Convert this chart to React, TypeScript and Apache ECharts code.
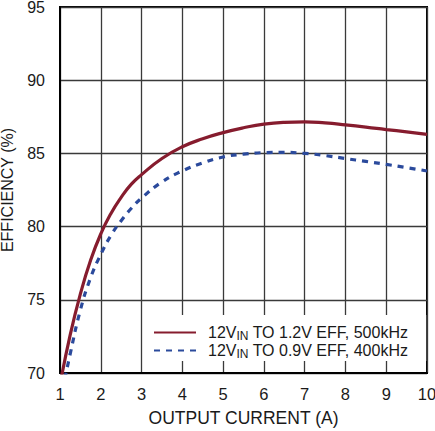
import { useEffect, useRef } from 'react';
import * as echarts from 'echarts';

// output current (A) and efficiency (%)
const red12to1v2X = [1.0, 1.25, 1.5, 1.75, 2.0, 2.25, 2.5, 2.75, 3.0, 3.5, 4.0, 4.5, 5.0, 5.5, 6.0, 6.5, 7.0, 7.5, 8.0, 8.5, 9.0, 9.5, 10];
const red12to1v2Y = [69.2, 72.6, 75.4, 77.7, 79.5, 80.9, 82.0, 82.9, 83.55, 84.65, 85.45, 86.0, 86.42, 86.75, 87.0, 87.12, 87.15, 87.08, 86.95, 86.8, 86.63, 86.47, 86.3];

const blue12to0v9X = [1.0, 1.25, 1.5, 1.75, 2.0, 2.25, 2.5, 2.75, 3.0, 3.5, 4.0, 4.5, 5.0, 5.5, 6.0, 6.5, 7.0, 7.5, 8.0, 8.5, 9.0, 9.5, 10];
const blue12to0v9Y = [68.0, 71.3, 74.3, 76.5, 78.1, 79.4, 80.4, 81.25, 81.95, 83.05, 83.8, 84.35, 84.75, 84.95, 85.05, 85.07, 85.0, 84.85, 84.65, 84.45, 84.25, 84.03, 83.8];

const seriesNames = ['12VIN TO 1.2V EFF, 500kHz', '12VIN TO 0.9V EFF, 400kHz'];
const legendLabels = ['12V{sub|IN} TO 1.2V EFF, 500kHz', '12V{sub|IN} TO 0.9V EFF, 400kHz'];

const FONT = "'Liberation Sans', Arial, sans-serif";
const INK = '#1a1a1a';
const RED = '#861c2e';
const BLUE = '#2b4a9c';

export default function App() {
  const chartRef = useRef<HTMLDivElement>(null);

  useEffect(() => {
    if (!chartRef.current) return;
    const chart = echarts.init(chartRef.current, undefined, { renderer: 'svg' });

    chart.setOption({
      animation: false,
      backgroundColor: '#fff',
      textStyle: { fontFamily: FONT },
      grid: {
        left: 60,
        right: 8,
        top: 7,
        bottom: 58,
        containLabel: false,
        outerBoundsMode: 'none',
        show: true,
        borderColor: '#000',
        borderWidth: 2,
        backgroundColor: 'transparent',
      },
      legend: {
        orient: 'vertical',
        left: 148,
        top: 315,
        padding: [8, 18, 1, 5],
        backgroundColor: '#fff',
        itemWidth: 42,
        itemHeight: 4,
        itemGap: -1,
        data: seriesNames,
        itemStyle: { opacity: 0 },
        formatter: (name: string) => legendLabels[seriesNames.indexOf(name)],
        textStyle: {
          color: INK,
          fontSize: 16,
          fontFamily: FONT,
          padding: [0, 0, 0, 7],
          lineHeight: 16,
          rich: {
            sub: { fontSize: 12, fontFamily: FONT, color: INK, padding: [7, 0, 0, 0], lineHeight: 16 },
          },
        },
      },
      xAxis: {
        type: 'value',
        min: 1,
        max: 10,
        interval: 1,
        name: 'OUTPUT CURRENT (A)',
        nameLocation: 'middle',
        nameGap: 36,
        nameTextStyle: { color: INK, fontSize: 17.5, fontFamily: FONT },
        axisLine: { show: true, lineStyle: { color: '#000', width: 2 } },
        axisTick: { show: false },
        axisLabel: { color: INK, fontSize: 16.5, margin: 12, fontFamily: FONT },
        splitLine: { show: true, lineStyle: { color: '#3a3a3a', width: 1.3 } },
      },
      yAxis: {
        type: 'value',
        min: 70,
        max: 95,
        interval: 5,
        name: 'EFFICIENCY (%)',
        nameLocation: 'middle',
        nameGap: 45,
        nameTextStyle: { color: INK, fontSize: 16, fontFamily: FONT },
        axisLine: { show: true, lineStyle: { color: '#000', width: 2 } },
        axisTick: { show: false },
        axisLabel: { color: INK, fontSize: 16, margin: 15, padding: [3, 0, 0, 0], fontFamily: FONT },
        splitLine: { show: true, lineStyle: { color: '#3a3a3a', width: 1.3 } },
      },
      series: [
        {
          name: seriesNames[0],
          type: 'line',
          smooth: 0.5,
          symbol: 'none',
          lineStyle: { color: RED, width: 3.2 },
          itemStyle: { color: RED },
          data: red12to1v2X.map((x, i) => [x, red12to1v2Y[i]]),
        },
        {
          name: seriesNames[1],
          type: 'line',
          smooth: 0.5,
          symbol: 'none',
          lineStyle: { color: BLUE, width: 3.2, type: [6, 6] },
          itemStyle: { color: BLUE },
          data: blue12to0v9X.map((x, i) => [x, blue12to0v9Y[i]]),
        },
      ],
    });

    return () => chart.dispose();
  }, []);

  return (
    <div
      ref={chartRef}
      style={{ position: 'fixed', left: 0, top: 0, width: 435, height: 431 }}
    />
  );
}
